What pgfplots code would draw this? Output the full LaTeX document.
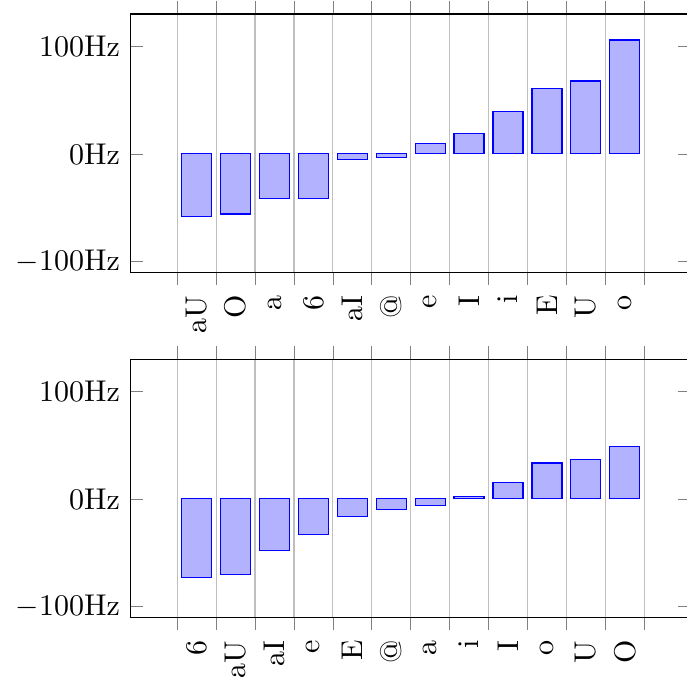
\documentclass[border=0pt]{standalone}
\usepackage{pgfplots}
\pgfplotsset{compat=1.18}
\begin{document}
\begin{tikzpicture}
\pgfplotsset{
  myax/.style={
    scale only axis, width=186.8pt, height=86pt,
    ybar, bar width=10pt,
    xmin=-1.7, xmax=12.7, ymin=-110, ymax=130,
    xtick={-0.5,0.5,...,11.5},
    x tick label as interval,
    xmajorgrids,
    xtick align=outside,
    ytick={-100,0,100},
    yticklabel={$\pgfmathprintnumber{\tick}$Hz},
    xticklabel style={rotate=90, anchor=east},
  }
}
\begin{axis}[myax, at={(0,0)},
  xticklabels={aU,O,a,6,aI,@,e,I,i,E,U,o}]
\addplot coordinates {(0,-58.2) (1,-56.0) (2,-41.8) (3,-41.2) (4,-5.6) (5,-3.1) (6,9.3) (7,19.2) (8,39.6) (9,61.0) (10,67.8) (11,105.9)};
\end{axis}
\begin{axis}[myax, at={(0,-115pt)},
  xticklabels={6,aU,aI,e,E,@,a,i,I,o,U,O}]
\addplot coordinates {(0,-73.1) (1,-70.0) (2,-48.3) (3,-32.8) (4,-16.1) (5,-9.6) (6,-6.5) (7,2.5) (8,15.2) (9,33.4) (10,36.5) (11,48.6)};
\end{axis}
\pgfresetboundingbox
\path[use as bounding box] (-43.5pt,-136.3pt) rectangle (185.5pt,90.7pt);
\end{tikzpicture}
\end{document}
